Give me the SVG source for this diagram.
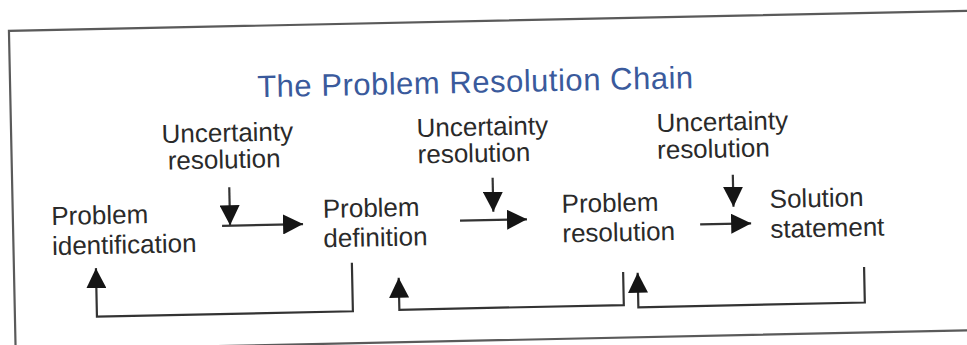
<svg xmlns="http://www.w3.org/2000/svg" width="967" height="345" viewBox="0 0 967 345">
<style>
  .lbl { font-family: "Liberation Sans", Arial, sans-serif; font-size: 26px; fill: #2a2a2a; }
  .title { font-family: "Liberation Sans", Arial, sans-serif; font-size: 31px; fill: #3a5a9c; }
  .frame { fill: #ffffff; stroke: #5a5a5a; stroke-width: 2.2; }
  .conn { fill: none; stroke: #333333; stroke-width: 2.2; }
</style>
<defs>
  <marker id="ah" viewBox="0 0 20 20" refX="20" refY="10" markerWidth="20" markerHeight="20" markerUnits="userSpaceOnUse" orient="auto">
    <path d="M0,0 L20,10 L0,20 z" fill="#151515"/>
  </marker>
</defs>
<rect x="0" y="0" width="967" height="345" fill="#ffffff"/>
<g transform="rotate(-1.2 483 172)">
  <rect class="frame" x="12" y="21" width="1010" height="319.5"/>
  <text class="title" x="259" y="92.5" textLength="436" lengthAdjust="spacing">The Problem Resolution Chain</text>

  <g id="uncertainty-1">
    <text class="lbl" x="162.5" y="136.3">Uncertainty</text>
    <text class="lbl" x="168" y="163">resolution</text>
  </g>
  <g id="uncertainty-2">
    <text class="lbl" x="417.5" y="135.6">Uncertainty</text>
    <text class="lbl" x="418" y="162">resolution</text>
  </g>
  <g id="uncertainty-3">
    <text class="lbl" x="657.5" y="135.6">Uncertainty</text>
    <text class="lbl" x="657.5" y="162.5">resolution</text>
  </g>

  <g id="problem-identification">
    <text class="lbl" x="50.5" y="216">Problem</text>
    <text class="lbl" x="50.5" y="246">identification</text>
  </g>
  <g id="problem-definition">
    <text class="lbl" x="322" y="214.5">Problem</text>
    <text class="lbl" x="322" y="244">definition</text>
  </g>
  <g id="problem-resolution">
    <text class="lbl" x="561" y="214.5">Problem</text>
    <text class="lbl" x="561" y="244">resolution</text>
  </g>
  <g id="solution-statement">
    <text class="lbl" x="769" y="214">Solution</text>
    <text class="lbl" x="769" y="244">statement</text>
  </g>

  <g id="connectors">
    <path class="conn" d="M229,182 V220" marker-end="url(#ah)"/>
    <path class="conn" d="M221,220.3 H302" marker-end="url(#ah)"/>
    <path class="conn" d="M492.5,178 V212" marker-end="url(#ah)"/>
    <path class="conn" d="M459,220.2 H526" marker-end="url(#ah)"/>
    <path class="conn" d="M732.7,180 V212" marker-end="url(#ah)"/>
    <path class="conn" d="M699,229 H750" marker-end="url(#ah)"/>
    <path class="conn" d="M350,260 V308.5 H94 V260" marker-end="url(#ah)"/>
    <path class="conn" d="M621,275 V308 H396.5 V276" marker-end="url(#ah)"/>
    <path class="conn" d="M862,275 V310.5 H635.5 V276" marker-end="url(#ah)"/>
  </g>
</g>
</svg>
